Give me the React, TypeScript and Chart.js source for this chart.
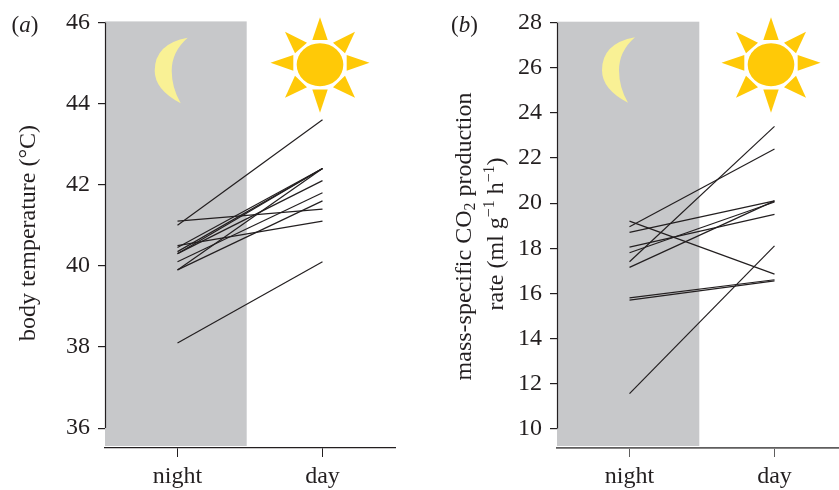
import React, { useEffect, useRef } from "react";
import { Chart, registerables } from "chart.js";

Chart.register(...registerables);

const categories = ["night", "day"];
const tempTicks = [36, 38, 40, 42, 44, 46];
const co2Ticks = [10, 12, 14, 16, 18, 20, 22, 24, 26, 28];
const tempNight = [41.0, 41.1, 40.5, 40.45, 40.35, 40.3, 40.3, 40.1, 39.9, 39.9, 38.1];
const tempDay = [43.6, 41.4, 41.1, 42.4, 42.4, 42.4, 42.1, 41.8, 41.6, 42.4, 40.1];
const co2Night = [19.2, 18.95, 18.7, 18.05, 17.8, 17.4, 17.15, 15.8, 15.7, 11.55];
const co2Day = [16.85, 22.4, 20.1, 19.5, 20.05, 23.4, 20.1, 16.6, 16.55, 18.1];

const INK = "#231F20";
const FAMILY = '"Liberation Serif", serif';
type Run = { t: string; italic?: boolean; script?: "sub" | "sup" };

function runFont(r: Run, size: number) {
  const s = r.script ? size * 0.66 : size;
  return `${r.italic ? "italic " : ""}${s}px ${FAMILY}`;
}
function drawRuns(ctx: any, runs: Run[], x: number, y: number, size: number, rotate: boolean) {
  ctx.save();
  ctx.translate(x, y);
  if (rotate) ctx.rotate(-Math.PI / 2);
  ctx.fillStyle = INK;
  ctx.textBaseline = "alphabetic";
  ctx.textAlign = "left";
  let w = 0;
  for (const r of runs) { ctx.font = runFont(r, size); w += ctx.measureText(r.t).width; }
  let p = rotate ? -w / 2 : 0;
  for (const r of runs) {
    ctx.font = runFont(r, size);
    const dy = r.script === "sub" ? size * 0.2 : r.script === "sup" ? -size * 0.36 : 0;
    ctx.fillText(r.t, p, dy);
    p += ctx.measureText(r.t).width;
  }
  ctx.restore();
}
function poly(ctx: any, pts: number[][], ox: number, oy: number) {
  ctx.beginPath();
  pts.forEach((q, i) => (i ? ctx.lineTo(ox + q[0], oy + q[1]) : ctx.moveTo(ox + q[0], oy + q[1])));
  ctx.closePath();
  ctx.fill();
}
function drawSun(ctx: any, cx: number, cy: number) {
  ctx.fillStyle = "#FFC907";
  ctx.beginPath();
  ctx.ellipse(cx, cy, 23.3, 21.5, 0, 0, Math.PI * 2);
  ctx.fill();
  const rays = [
    [[0, -47.5], [-7.7, -24.7], [7.7, -24.7]],
    [[0, 48], [-7.7, 24.7], [7.7, 24.7]],
    [[-49.5, -2], [-26.7, -9.7], [-26.7, 6]],
    [[49.5, -2], [26.7, -9.7], [26.7, 6]],
    [[-35, -33], [-13, -22], [-25, -11.5]],
    [[35, -33], [13, -22], [25, -11.5]],
    [[-35, 33], [-25, 11], [-13, 22.5]],
    [[35, 33], [25, 11], [13, 22.5]],
  ];
  rays.forEach((r) => poly(ctx, r, cx, cy));
}
function drawMoon(ctx: any, x: number, y: number) {
  // x, y: the upper tip of the crescent
  ctx.fillStyle = "#F9F195";
  ctx.beginPath();
  ctx.moveTo(x, y);
  ctx.quadraticCurveTo(x - 33, y + 6, x - 33, y + 33);
  ctx.quadraticCurveTo(x - 33, y + 52, x - 7, y + 65.5);
  ctx.quadraticCurveTo(x - 16, y + 50, x - 16, y + 33);
  ctx.quadraticCurveTo(x - 16, y + 14, x, y);
  ctx.closePath();
  ctx.fill();
}

type Panel = {
  night: number[]; day: number[]; ticks: number[]; min: number; max: number;
  yWidth: number; top: number; bottom: number; right: number; grayRight: number;
  sunX: number; sunY: number; moonX: number; moonY: number;
  tag: Run[]; tagX: number; tagY: number; axis: string; axisWidth: number;
  titles: { runs: Run[]; x: number; y: number }[];
};

function makeChart(canvas: HTMLCanvasElement, p: Panel) {
  const decor = {
    id: "decor",
    beforeDatasetsDraw(chart: any) {
      const { ctx, chartArea: a, scales } = chart;
      ctx.save();
      ctx.fillStyle = "#C7C8CA";
      ctx.fillRect(a.left, a.top - 1, p.grayRight - a.left, a.bottom - 2 - (a.top - 1));
      drawMoon(ctx, p.moonX, p.moonY);
      drawSun(ctx, p.sunX, p.sunY);
      ctx.strokeStyle = INK;
      ctx.lineWidth = 1.2;
      ctx.beginPath();
      const x = Math.round(a.left) + 0.5;
      ctx.moveTo(x, scales.y.getPixelForValue(p.ticks[p.ticks.length - 1]));
      ctx.lineTo(x, scales.y.getPixelForValue(p.ticks[0]));
      ctx.stroke();
      ctx.restore();
    },
    afterDraw(chart: any) {
      const { ctx } = chart;
      drawRuns(ctx, p.tag, p.tagX, p.tagY, 23, false);
      p.titles.forEach((t) => drawRuns(ctx, t.runs, t.x, t.y, 24, true));
    },
  };
  return new Chart(canvas, {
    type: "line",
    data: {
      labels: categories,
      datasets: p.night.map((n, i) => ({
        data: [n, p.day[i]],
        borderColor: INK,
        borderWidth: 1.2,
        pointRadius: 0,
        tension: 0,
        fill: false,
        clip: false as any,
      })),
    },
    options: {
      animation: false,
      responsive: false,
      events: [],
      layout: { padding: { top: p.top, right: p.right, left: 0, bottom: 0 } },
      plugins: { legend: { display: false }, title: { display: false }, tooltip: { enabled: false } },
      scales: {
        x: {
          type: "category",
          offset: true,
          afterFit: (s: any) => { s.height = p.bottom; },
          border: { display: true, color: p.axis, width: p.axisWidth },
          grid: { display: true, offset: false, drawOnChartArea: false, drawTicks: true, tickLength: 9, color: p.axis, lineWidth: 1 },
          ticks: { color: INK, padding: 5, maxRotation: 0, font: { family: FAMILY, size: 24 } },
        },
        y: {
          type: "linear",
          min: p.min,
          max: p.max,
          afterFit: (s: any) => { s.width = p.yWidth; },
          afterBuildTicks: (s: any) => { s.ticks = p.ticks.map((value) => ({ value })); },
          border: { display: false },
          grid: { display: true, drawOnChartArea: false, drawTicks: true, tickLength: 7, color: INK, lineWidth: 1.2 },
          ticks: { color: INK, padding: 8, autoSkip: false, font: { family: FAMILY, size: 24 } },
        },
      },
    } as any,
    plugins: [decor],
  });
}

const panelA: Panel = {
  night: tempNight, day: tempDay, ticks: tempTicks, min: 35.51, max: 46,
  yWidth: 105, top: 21.5, bottom: 42, right: 25, grayRight: 246.7,
  sunX: 320, sunY: 64.7, moonX: 187.7, moonY: 37.7, axis: INK, axisWidth: 1.3,
  tag: [{ t: "(" }, { t: "a", italic: true }, { t: ")" }], tagX: 11.5, tagY: 32,
  titles: [{ runs: [{ t: "body temperature (°C)" }], x: 35, y: 233 }],
};
const panelB: Panel = {
  night: co2Night, day: co2Day, ticks: co2Ticks, min: 9.14, max: 28,
  yWidth: 137, top: 22.7, bottom: 42, right: 0, grayRight: 279.3,
  sunX: 351, sunY: 64.7, moonX: 215, moonY: 37.3, axis: "#5F5E5E", axisWidth: 1.8,
  tag: [{ t: "(" }, { t: "b", italic: true }, { t: ")" }], tagX: 31, tagY: 32,
  titles: [
    { runs: [{ t: "mass-specific CO" }, { t: "2", script: "sub" }, { t: " production" }], x: 50.6, y: 236.5 },
    { runs: [{ t: "rate (ml g" }, { t: "−1", script: "sup" }, { t: " h" }, { t: "−1", script: "sup" }, { t: ")" }], x: 82.7, y: 234 },
  ],
};

export default function App() {
  const a = useRef<HTMLCanvasElement>(null);
  const b = useRef<HTMLCanvasElement>(null);
  useEffect(() => {
    const ca = makeChart(a.current!, panelA);
    const cb = makeChart(b.current!, panelB);
    return () => { ca.destroy(); cb.destroy(); };
  }, []);
  return (
    <div style={{ position: "fixed", left: 0, top: 0, width: 839, height: 490, overflow: "hidden", background: "#fff" }}>
      <canvas ref={a} width={420} height={490} style={{ position: "absolute", left: 0, top: 0, width: 420, height: 490 }} />
      <canvas ref={b} width={427} height={490} style={{ position: "absolute", left: 420, top: 0, width: 427, height: 490 }} />
    </div>
  );
}
